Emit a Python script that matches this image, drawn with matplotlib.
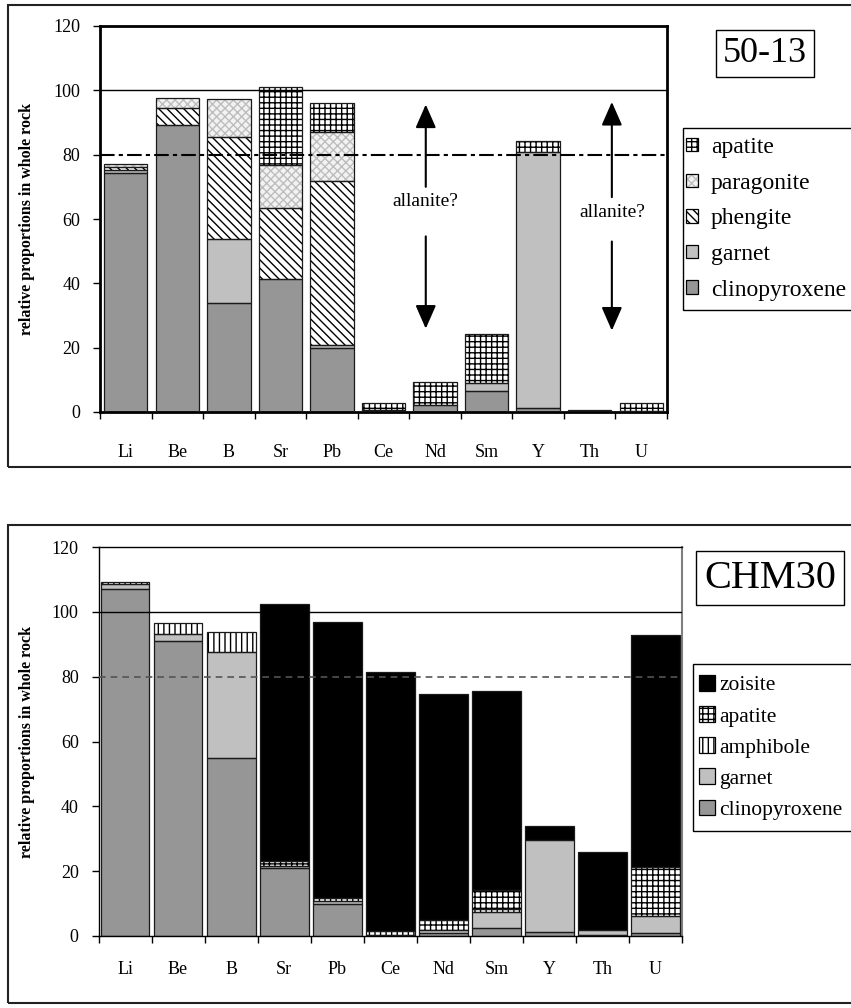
import matplotlib
matplotlib.use('Agg')
import matplotlib.pyplot as plt
from matplotlib.patches import Patch, Rectangle
import numpy as np

plt.rcParams['font.family'] = ['Liberation Serif', 'DejaVu Serif']
plt.rcParams['hatch.linewidth'] = 1.0

elements = ['Li', 'Be', 'B', 'Sr', 'Pb', 'Ce', 'Nd', 'Sm', 'Y', 'Th', 'U']

# sample 50-13
cpx_a = [74.4, 89.1, 33.8, 41.5, 19.8, 0.5, 2.2, 6.6, 1.3, 0.7, 0.4]
grt_a = [0.9, 0, 19.9, 0, 1.0, 0, 0, 2.5, 79.5, 0, 0]
phe_a = [0.9, 5.3, 31.9, 21.9, 51.1, 0, 0, 0, 0, 0, 0]
par_a = [1.0, 3.1, 11.6, 13.5, 15.0, 0, 0, 0, 0, 0, 0]
apa_a = [0, 0, 0, 24.1, 9.3, 2.4, 7.2, 15.3, 3.5, 0, 2.5]

# sample CHM30
cpx_b = [107.1, 91.1, 55.0, 21.0, 10.0, 0.3, 1.0, 2.5, 1.3, 0.3, 0.8]
grt_b = [1.4, 2.2, 32.5, 0.5, 0.8, 0, 1.0, 5.0, 28.2, 1.5, 5.5]
amp_b = [0.8, 3.3, 6.4, 0, 0, 0, 0, 0.8, 0, 0, 0]
apa_b = [0, 0, 0, 1.5, 1.0, 1.2, 3.0, 6.0, 0, 0, 15.0]
zoi_b = [0, 0, 0, 79.5, 85.1, 80.0, 69.8, 61.2, 4.5, 24.2, 71.5]

# (face, hatch, hatch colour)
CPX = ('#969696', None, None)
GRT = ('#c0c0c0', None, None)
PHE = ('white', '\\\\\\\\', 'black')
PAR = ('#f2f2f2', 'xxxx', '#bdbdbd')
APA = ('white', '+++', 'black')
AMP = ('white', '|||', 'black')
ZOI = ('black', None, None)

W, H = 851, 1008


def fx(px):
    return px / W


def fy(py):
    return 1 - py / H


def stack(ax, layers, width):
    x = np.arange(len(elements))
    base = np.zeros(len(elements))
    for vals, (face, hatch, hcol) in layers:
        vals = np.asarray(vals, float)
        m = vals > 0
        if hatch:
            ax.bar(x[m], vals[m], width, bottom=base[m], color=face, hatch=hatch,
                   edgecolor=hcol, linewidth=0, zorder=2)
        else:
            ax.bar(x[m], vals[m], width, bottom=base[m], color=face, linewidth=0, zorder=2)
        ax.bar(x[m], vals[m], width, bottom=base[m], fill=False,
               edgecolor='#1a1a1a', linewidth=0.9, zorder=3)
        base += vals


def handle(style):
    face, hatch, hcol = style
    if hatch:
        inner = Patch(facecolor=face, hatch=hatch, edgecolor=hcol, linewidth=0)
    else:
        inner = Patch(facecolor=face, linewidth=0)
    return (inner, Patch(fill=False, edgecolor='black', linewidth=0.9))


def setup(ax, pad_x):
    ax.set_xlim(-0.5, 10.5)
    ax.set_ylim(0, 120)
    ax.set_yticks(range(0, 121, 20))
    ax.set_xticks(np.arange(-0.5, 11, 1))
    ax.set_xticklabels([])
    ax.set_xticks(np.arange(11), minor=True)
    ax.set_xticklabels(elements, minor=True)
    ax.tick_params(axis='x', which='major', direction='out', length=5.3, width=1)
    ax.tick_params(axis='x', which='minor', length=0, pad=pad_x, labelsize=13)
    ax.tick_params(axis='y', direction='out', length=5.3, width=1, pad=9, labelsize=13)


fig = plt.figure(figsize=(8.51, 10.08), dpi=100)

# outer frames
for top, bot in [(5, 467), (525, 1003)]:
    fig.add_artist(Rectangle((fx(8), fy(bot)), fx(900), (bot - top) / H,
                             transform=fig.transFigure, fill=False,
                             edgecolor='#222222', linewidth=1.5))

# ---- 50-13 ----
ax1 = fig.add_axes([fx(100), fy(412), fx(667) - fx(100), (412 - 26) / H])
stack(ax1, [(cpx_a, CPX), (grt_a, GRT), (phe_a, PHE), (par_a, PAR), (apa_a, APA)], 0.84)
setup(ax1, 23)
for s in ax1.spines.values():
    s.set_linewidth(2)
    s.set_color('black')
ax1.axhline(100, color='black', linewidth=1, zorder=4)
ax1.axhline(80, color='black', linewidth=1.5, linestyle=(0, (7, 2, 2, 2)), zorder=4)

arrow = dict(arrowstyle='-|>,head_length=0.8,head_width=0.35', mutation_scale=18,
             color='black', linewidth=1.5, shrinkA=0, shrinkB=0)
for xa, tip_up, tail_up, ytxt, top_dn, tip_dn in [(5.82, 95.6, 70.0, 65.3, 54.6, 25.9),
                                                  (9.43, 96.4, 66.8, 62.0, 53.0, 25.3)]:
    ax1.annotate('', xy=(xa, tip_up), xytext=(xa, tail_up), arrowprops=arrow, zorder=5)
    ax1.annotate('', xy=(xa, tip_dn), xytext=(xa, top_dn), arrowprops=arrow, zorder=5)
    ax1.text(xa, ytxt, 'allanite?', ha='center', va='center', fontsize=14)

fig.text(fx(765), fy(53.5), '50-13', ha='center', va='center', fontsize=26,
         bbox=dict(boxstyle='square,pad=0.2', facecolor='white', edgecolor='black', linewidth=1))
fig.text(fx(27), fy(219), 'relative proportions in whole rock', rotation=90,
         ha='center', va='center', fontsize=11.5, fontweight='bold')

fig.add_artist(Rectangle((fx(683), fy(310)), fx(300), (310 - 128) / H,
                         transform=fig.transFigure, fill=False,
                         edgecolor='black', linewidth=1))
leg1_labels = ['apatite', 'paragonite', 'phengite', 'garnet', 'clinopyroxene']
leg1_styles = [APA, PAR, PHE, GRT, CPX]
fig.legend([handle(s) for s in leg1_styles], leg1_labels, loc='upper left',
           bbox_to_anchor=(fx(686), fy(137)), frameon=False, fontsize=17,
           handlelength=0.5, handleheight=0.5, handletextpad=0.55,
           labelspacing=0.62, borderpad=0, borderaxespad=0)

# ---- CHM30 ----
ax2 = fig.add_axes([fx(98.5), fy(936), fx(682) - fx(98.5), (936 - 547) / H])
stack(ax2, [(cpx_b, CPX), (grt_b, GRT), (amp_b, AMP), (apa_b, APA), (zoi_b, ZOI)], 0.92)
setup(ax2, 18)
for name, s in ax2.spines.items():
    s.set_linewidth(1)
    s.set_color('black')
ax2.spines['right'].set_color('#808080')
ax2.spines['right'].set_linewidth(1.5)
ax2.axhline(100, color='black', linewidth=1, zorder=4)
ax2.axhline(80, color='#555555', linewidth=1.2, linestyle=(0, (4, 3)), zorder=4)

fig.text(fx(770), fy(578), 'CHM30', ha='center', va='center', fontsize=29,
         bbox=dict(boxstyle='square,pad=0.2', facecolor='white', edgecolor='black', linewidth=1))
fig.text(fx(27), fy(741.5), 'relative proportions in whole rock', rotation=90,
         ha='center', va='center', fontsize=11.5, fontweight='bold')

fig.add_artist(Rectangle((fx(693), fy(831)), fx(300), (831 - 664) / H,
                         transform=fig.transFigure, fill=False,
                         edgecolor='black', linewidth=1))
leg2_labels = ['zoisite', 'apatite', 'amphibole', 'garnet', 'clinopyroxene']
leg2_styles = [ZOI, APA, AMP, GRT, CPX]
fig.legend([handle(s) for s in leg2_styles], leg2_labels, loc='upper left',
           bbox_to_anchor=(fx(699), fy(675)), frameon=False, fontsize=15.5,
           handlelength=0.75, handleheight=0.75, handletextpad=0.2,
           labelspacing=0.5, borderpad=0, borderaxespad=0)

fig.savefig('out.png', dpi=100)
